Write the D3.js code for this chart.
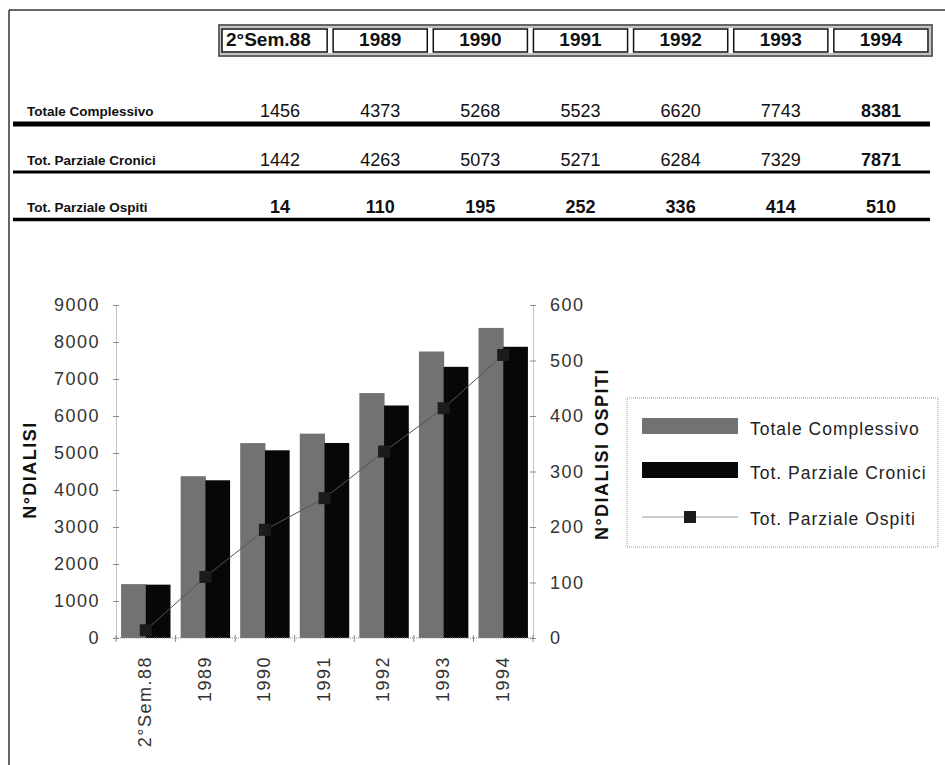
<!DOCTYPE html>
<html><head><meta charset="utf-8">
<script src="https://cdn.jsdelivr.net/npm/d3@7"></script>
<style>
html,body{margin:0;padding:0;background:#fff;}
svg{display:block;}
text{font-family:"Liberation Sans",Arial,Helvetica,sans-serif;}
</style></head>
<body>
<svg id="chart" width="945" height="765"></svg>
<script>
// ---- data ----
const categories = ["2°Sem.88","1989","1990","1991","1992","1993","1994"];
const totaleComplessivo = [1456,4373,5268,5523,6620,7743,8381];
const parzialeCronici = [1442,4263,5073,5271,6284,7329,7871];
const parzialeOspiti = [14,110,195,252,336,414,510];
const rowLabels = ["Totale Complessivo","Tot. Parziale Cronici","Tot. Parziale Ospiti"];
const seriesNames = ["Totale Complessivo","Tot. Parziale Cronici","Tot. Parziale Ospiti"];
const leftTicks = [0,1000,2000,3000,4000,5000,6000,7000,8000,9000];
const rightTicks = [0,100,200,300,400,500,600];
const leftTitle = "N°DIALISI";
const rightTitle = "N°DIALISI OSPITI";

const svg = d3.select("#chart");

// page frame
svg.append("line").attr("x1",9).attr("x2",945).attr("y1",10).attr("y2",10).attr("stroke","#333").attr("stroke-width",1.5);
svg.append("line").attr("x1",9).attr("x2",9).attr("y1",10).attr("y2",765).attr("stroke","#333").attr("stroke-width",1.5);

// ---- table ----
const tx = d3.scaleBand().domain(categories).range([230,931]);
const hdr = svg.append("g");
hdr.append("rect").attr("x",219).attr("y",25).attr("width",713).attr("height",31)
  .attr("fill","none").attr("stroke","#333").attr("stroke-width",1.5);
hdr.append("rect").attr("x",221).attr("y",27).attr("width",709).attr("height",27)
  .attr("fill","none").attr("stroke","#888").attr("stroke-width",1);
categories.forEach((c,i)=>{
  const x0 = i===0 ? 222 : tx(c)+3;
  const x1 = tx(c)+tx.bandwidth()-3;
  hdr.append("rect").attr("x",x0).attr("y",29).attr("width",x1-x0).attr("height",23)
    .attr("fill","#fff").attr("stroke","#111").attr("stroke-width",1.5);
  hdr.append("text")
    .attr("x", i===0 ? 226 : tx(c)+tx.bandwidth()/2)
    .attr("y",46)
    .attr("text-anchor", i===0 ? "start" : "middle")
    .attr("font-size",19).attr("font-weight","bold").attr("fill","#111")
    .text(c);
});
const tableRows = [totaleComplessivo, parzialeCronici, parzialeOspiti];
const rowBase = [117,166,213];
const lineY = [124,172,219.5];
const lineW = [5,3,3.5];
tableRows.forEach((vals,r)=>{
  svg.append("text").attr("x",27).attr("y",rowBase[r]-1)
    .attr("font-size",13.5).attr("font-weight","bold").attr("fill","#111")
    .text(rowLabels[r]);
  vals.forEach((v,i)=>{
    const bold = (r===2) || (i===categories.length-1);
    svg.append("text").attr("x",tx(categories[i])+tx.bandwidth()/2).attr("y",rowBase[r])
      .attr("text-anchor","middle").attr("font-size",18)
      .attr("font-weight", bold ? "bold":"normal").attr("fill","#111")
      .text(v);
  });
  svg.append("line").attr("x1",13).attr("x2",930).attr("y1",lineY[r]).attr("y2",lineY[r])
    .attr("stroke","#000").attr("stroke-width",lineW[r]);
});

// ---- chart ----
const xLeft = 116, xRight = 533, yBottom = 638, yTop = 305;
const x = d3.scaleBand().domain(categories).range([xLeft,xRight]).paddingInner(0.17).paddingOuter(0.085);
const xOuter = d3.scaleBand().domain(categories).range([xLeft,xRight]);
const x1 = d3.scaleBand().domain([0,1]).range([0,x.bandwidth()]);
const yL = d3.scaleLinear().domain([0,9000]).range([yBottom,yTop]);
const yR = d3.scaleLinear().domain([0,600]).range([yBottom,yTop]);

const axisColor = "#8a8a8a";
const labelFont = {size:18, ls:1.5, color:"#333"};

// left axis
const gl = svg.append("g").attr("transform",`translate(${xLeft},0)`)
  .call(d3.axisLeft(yL).tickValues(leftTicks).tickFormat(d3.format("d")).tickSize(0).tickPadding(16));
gl.select(".domain").attr("stroke",axisColor).attr("stroke-dasharray","1,1");
gl.selectAll(".tick text").attr("font-size",labelFont.size).attr("letter-spacing",labelFont.ls)
  .attr("fill",labelFont.color).attr("font-family","'Liberation Sans',Arial,sans-serif");
gl.selectAll(".tick").append("line").attr("x1",-3).attr("x2",3).attr("stroke",axisColor);

// right axis
const gr = svg.append("g").attr("transform",`translate(${xRight},0)`)
  .call(d3.axisRight(yR).tickValues(rightTicks).tickFormat(d3.format("d")).tickSize(0).tickPadding(17));
gr.select(".domain").attr("stroke",axisColor).attr("stroke-dasharray","1,1");
gr.selectAll(".tick text").attr("font-size",labelFont.size).attr("letter-spacing",labelFont.ls)
  .attr("fill",labelFont.color).attr("font-family","'Liberation Sans',Arial,sans-serif");
gr.selectAll(".tick").append("line").attr("x1",-3).attr("x2",3).attr("stroke",axisColor);

// bars
const barColors = ["#727272","#070707"];
const seriesBars = [totaleComplessivo, parzialeCronici];
seriesBars.forEach((vals,s)=>{
  svg.append("g").selectAll("rect").data(vals).join("rect")
    .attr("x",(d,i)=>x(categories[i])+x1(s))
    .attr("width",x1.bandwidth()+(s===0?0.5:0))
    .attr("y",d=>yL(d))
    .attr("height",d=>yBottom-yL(d))
    .attr("fill",barColors[s]);
});

// x axis
const gx = svg.append("g").attr("transform",`translate(0,${yBottom})`);
gx.append("line").attr("x1",xLeft).attr("x2",xRight).attr("stroke",axisColor).attr("stroke-dasharray","1,1");
const boundaries = categories.map(c=>xOuter(c)).concat([xOuter.range()[1]]);
gx.selectAll("line.tk").data(boundaries).join("line").attr("class","tk")
  .attr("x1",d=>d).attr("x2",d=>d).attr("y1",-3).attr("y2",4).attr("stroke",axisColor);
gx.selectAll("text").data(categories).join("text")
  .attr("transform",d=>`translate(${xOuter(d)+xOuter.bandwidth()/2-1},18) rotate(-90)`)
  .attr("text-anchor","end").attr("dy","0.35em")
  .attr("font-size",labelFont.size).attr("letter-spacing",labelFont.ls).attr("fill",labelFont.color)
  .text(d=>d);

// line series (right axis)
const line = d3.line().x((d,i)=>xOuter(categories[i])+xOuter.bandwidth()/2).y(d=>yR(d));
svg.append("path").datum(parzialeOspiti).attr("d",line).attr("fill","none")
  .attr("stroke","#555").attr("stroke-width",1);
svg.append("g").selectAll("rect").data(parzialeOspiti).join("rect")
  .attr("x",(d,i)=>xOuter(categories[i])+xOuter.bandwidth()/2-6)
  .attr("y",d=>yR(d)-6).attr("width",12).attr("height",12).attr("fill","#1c1c1c");

// axis titles
svg.append("text").attr("transform",`translate(36,470) rotate(-90)`)
  .attr("text-anchor","middle").attr("font-size",18).attr("font-weight","bold")
  .attr("letter-spacing",1.5).attr("fill","#111").text(leftTitle);
svg.append("text").attr("transform",`translate(608,454) rotate(-90)`)
  .attr("text-anchor","middle").attr("font-size",18).attr("font-weight","bold")
  .attr("letter-spacing",1.5).attr("fill","#111").text(rightTitle);

// legend
const lg = svg.append("g");
lg.append("rect").attr("x",627).attr("y",398).attr("width",311).attr("height",149)
  .attr("fill","none").attr("stroke","#999").attr("stroke-width",1).attr("stroke-dasharray","1,1");
const legRows = [435,479,525];
[0,1].forEach(s=>{
  lg.append("rect").attr("x",642).attr("y",legRows[s]-17).attr("width",96).attr("height",16).attr("fill",barColors[s]);
});
lg.append("line").attr("x1",642).attr("x2",738).attr("y1",517).attr("y2",517).attr("stroke","#999").attr("stroke-width",1);
lg.append("rect").attr("x",684).attr("y",511).attr("width",12).attr("height",12).attr("fill","#1c1c1c");
seriesNames.forEach((n,i)=>{
  lg.append("text").attr("x",750).attr("y",legRows[i]).attr("font-size",17.5).attr("letter-spacing",1)
    .attr("fill","#222").text(n);
});
</script>
</body></html>
